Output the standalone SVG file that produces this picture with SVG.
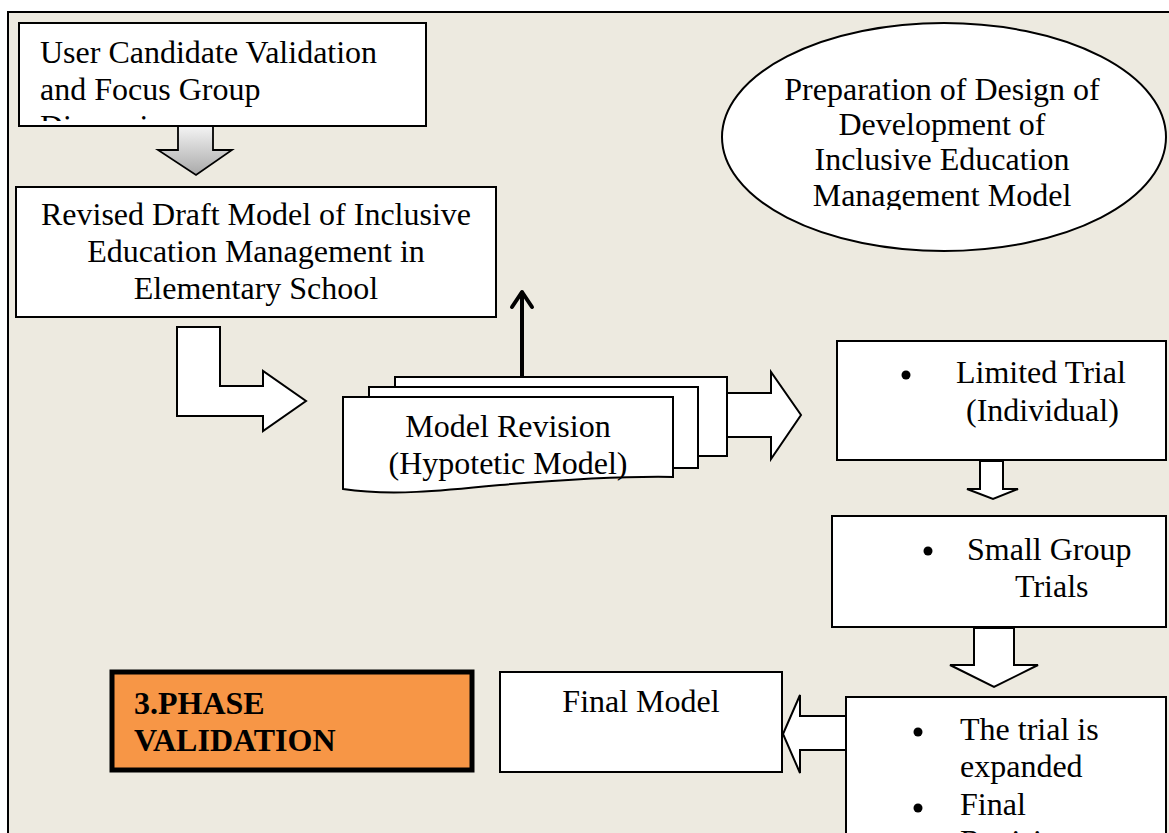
<svg xmlns="http://www.w3.org/2000/svg" width="1169" height="833" viewBox="0 0 1169 833">
  <style>
    .box { fill: #ffffff; stroke: #000000; stroke-width: 2; }
    .arrow { fill: #ffffff; stroke: #000000; stroke-width: 2; stroke-linejoin: miter; }
    .t { font-family: "Liberation Serif", "Times New Roman", serif; font-size: 32px; fill: #000000; }
    .c { text-anchor: middle; }
    .b { font-weight: bold; font-size: 32px; }
  </style>
  <defs>
    <linearGradient id="grayFill" x1="0" y1="0" x2="0" y2="1">
      <stop offset="0" stop-color="#f4f4f4"/>
      <stop offset="1" stop-color="#a9a9a9"/>
    </linearGradient>
    <clipPath id="clipTop">
      <rect x="20" y="24" width="405" height="97"/>
    </clipPath>
    <clipPath id="clipOval">
      <rect x="720" y="20" width="449" height="190"/>
    </clipPath>
  </defs>

  <!-- page frame -->
  <rect x="0" y="0" width="1169" height="833" fill="#ffffff"/>
  <rect x="8" y="12" width="1170" height="830" fill="#EDEAE0" stroke="#000000" stroke-width="2"/>

  <!-- connectors -->
  <g id="connectors">
    <!-- gray block arrow down -->
    <path d="M178,126 H213 V150 H232 L196,175 L158,150 H178 Z" fill="url(#grayFill)" stroke="#000000" stroke-width="1.8"/>
    <!-- bent arrow to model revision -->
    <path class="arrow" d="M177,327 H220 V386 H263 V371 L306,401 L263,431 V416 H177 Z"/>
    <!-- up arrow from model revision -->
    <g stroke="#000000" stroke-width="4" fill="none" stroke-linecap="round" stroke-linejoin="round">
      <line x1="522" y1="377" x2="522" y2="293"/>
      <polyline points="512,307 522,292 532,307"/>
    </g>
    <!-- arrow to limited trial -->
    <path class="arrow" d="M726,393 H771 V372 L801,415 L771,459 V437 H726 Z"/>
    <!-- limited trial to small group -->
    <path class="arrow" d="M980,461 H1003 V489 H1018 L993,499 L967,489 H980 Z"/>
    <!-- small group to expanded trial -->
    <path class="arrow" d="M974,628 H1014 V665 H1038 L994,687 L950,665 H974 Z"/>
    <!-- expanded trial to final model -->
    <path class="arrow" d="M846,716 V750 H800 V773 L783,734 L800,695 V716 Z"/>
  </g>

  <!-- user candidate validation -->
  <g id="node-validation">
    <rect class="box" x="19" y="23" width="407" height="103"/>
    <g clip-path="url(#clipTop)">
      <text class="t" x="40" y="63">User Candidate Validation</text>
      <text class="t" x="40" y="100">and Focus Group</text>
      <text class="t" x="40" y="137">Discussion</text>
    </g>
  </g>

  <!-- revised draft model -->
  <g id="node-draft">
    <rect class="box" x="16" y="187" width="480" height="130"/>
    <text class="t c" x="256" y="225">Revised Draft Model of Inclusive</text>
    <text class="t c" x="256" y="262">Education Management in</text>
    <text class="t c" x="256" y="299">Elementary School</text>
  </g>

  <!-- preparation oval -->
  <g id="node-preparation">
    <ellipse cx="944" cy="137" rx="222" ry="114" fill="#ffffff" stroke="#000000" stroke-width="2"/>
    <g clip-path="url(#clipOval)">
      <text class="t c" x="942" y="100">Preparation of Design of</text>
      <text class="t c" x="942" y="135">Development of</text>
      <text class="t c" x="942" y="170">Inclusive Education</text>
      <text class="t c" x="942" y="206">Management Model</text>
    </g>
  </g>

  <!-- model revision (stacked documents) -->
  <g id="node-revision">
    <rect class="box" x="395" y="377" width="332" height="79"/>
    <rect class="box" x="369" y="387" width="329" height="81"/>
    <path class="box" d="M343,397 H673 V477 C620,476 560,480 500,485 C440,491 390,496 343,489 Z"/>
    <text class="t c" x="508" y="437">Model Revision</text>
    <text class="t c" x="508" y="474">(Hypotetic Model)</text>
  </g>

  <!-- limited trial -->
  <g id="node-limited">
    <rect class="box" x="837" y="341" width="329" height="119"/>
    <circle cx="906" cy="375" r="4.5"/>
    <text class="t" x="956" y="383">Limited Trial</text>
    <text class="t" x="966" y="421">(Individual)</text>
  </g>

  <!-- small group trials -->
  <g id="node-small-group">
    <rect class="box" x="832" y="516" width="334" height="111"/>
    <circle cx="928" cy="551" r="4.5"/>
    <text class="t" x="967" y="560">Small Group</text>
    <text class="t" x="1015" y="597">Trials</text>
  </g>

  <!-- expanded trial -->
  <g id="node-expanded">
    <rect class="box" x="846" y="697" width="320" height="150"/>
    <circle cx="918" cy="732" r="4.5"/>
    <text class="t" x="960" y="740">The trial is</text>
    <text class="t" x="960" y="777">expanded</text>
    <circle cx="918" cy="808" r="4.5"/>
    <text class="t" x="960" y="815">Final</text>
    <text class="t" x="960" y="852">Revision</text>
  </g>

  <!-- final model -->
  <g id="node-final">
    <rect class="box" x="500" y="672" width="282" height="100"/>
    <text class="t c" x="641" y="712">Final Model</text>
  </g>

  <!-- phase label -->
  <g id="node-phase">
    <rect x="112" y="672" width="360" height="98" fill="#F79646" stroke="#000000" stroke-width="5"/>
    <text class="t b" x="134" y="714">3.PHASE</text>
    <text class="t b" x="134" y="751">VALIDATION</text>
  </g>
</svg>
